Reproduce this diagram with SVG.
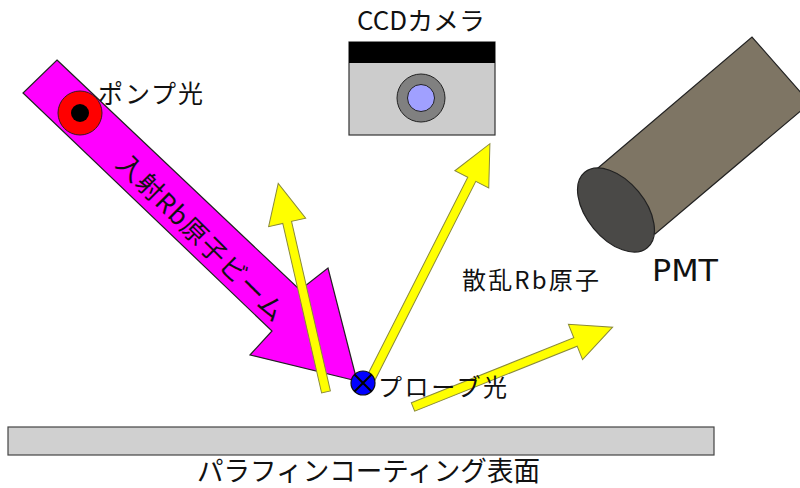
<svg xmlns="http://www.w3.org/2000/svg" width="800" height="488" viewBox="0 0 800 488">
  <style>
    .lbl { font-family: "Noto Sans CJK JP", "Noto Sans", sans-serif; fill: #111; }
    .lat { font-family: "DejaVu Sans", "Noto Sans", sans-serif; fill: #111; }
    .ray { fill: #ffff00; stroke: #8a8a3a; stroke-width: 1; stroke-linejoin: miter; }
    .edge { stroke: #222; stroke-width: 1.2; }
  </style>
  <rect width="800" height="488" fill="#ffffff"/>

  <!-- paraffin-coated surface -->
  <g id="surface">
    <rect x="8" y="427" width="706" height="28" fill="#d0d0d0" stroke="#444" stroke-width="1.2"/>
    <text class="lbl" x="368.5" y="481" font-size="27" text-anchor="middle" textLength="343" lengthAdjust="spacingAndGlyphs">パラフィンコーティング表面</text>
  </g>

  <!-- incident Rb atomic beam -->
  <g id="atom-beam">
    <polygon points="57,60 300,290 328,268 357,381 250,355 272,331 23,93" fill="#ff00ff" class="edge"/>
    <text class="lbl" x="194.3" y="244.2" font-size="26" text-anchor="middle" textLength="224" lengthAdjust="spacing" transform="rotate(44.8 194.3 244.2)">入射Rb原子ビーム</text>
  </g>

  <!-- pump light (out of plane) -->
  <g id="pump">
    <circle cx="80" cy="113" r="22" fill="#ff0000" stroke="#3a1a1a" stroke-width="1"/>
    <circle cx="80" cy="113" r="9" fill="#000"/>
    <text class="lbl" x="98" y="103" font-size="25" textLength="105">ポンプ光</text>
  </g>

  <!-- CCD camera -->
  <g id="ccd">
    <text class="lbl" x="421" y="30" font-size="25" text-anchor="middle" textLength="128" lengthAdjust="spacingAndGlyphs">CCDカメラ</text>
    <rect x="349" y="42" width="146" height="93" fill="#cccccc" stroke="#333" stroke-width="1.2"/>
    <rect x="349" y="42" width="146" height="21" fill="#000"/>
    <circle cx="421" cy="98" r="24" fill="#808080" stroke="#222" stroke-width="1"/>
    <circle cx="421" cy="98" r="13.5" fill="#a0a0ff" stroke="#222" stroke-width="1"/>
  </g>

  <!-- photomultiplier tube -->
  <g id="pmt">
    <polygon points="598,168 752,37 810,103 655,234 616,210" fill="#7e7564" class="edge"/>
    <ellipse cx="616" cy="210" rx="49" ry="29" transform="rotate(50.3 616 210)" fill="#4a4947" class="edge"/>
    <text class="lat" x="652" y="281" font-size="30" textLength="66" lengthAdjust="spacingAndGlyphs">PMT</text>
  </g>

  <!-- rays: specular, scattered and probe -->
  <g id="connectors">
    <path class="ray" d="M0,-4.5 H174 V-19 L214,0 L174,19 V4.5 H0 Z" transform="translate(326 392) rotate(-102.9)"/>
    <path class="ray" d="M0,-4.5 H225 V-19 L265,0 L225,19 V4.5 H0 Z" transform="translate(370 380) rotate(-63.1)"/>
    <path class="ray" d="M0,-4.5 H175 V-19 L215,0 L175,19 V4.5 H0 Z" transform="translate(413 407) rotate(-21.8)"/>
  </g>

  <!-- probe light (into plane) -->
  <g id="probe">
    <circle cx="363" cy="383" r="12" fill="#0000ff" stroke="#111" stroke-width="1.2"/>
    <path d="M354.5,374.5 L371.5,391.5 M371.5,374.5 L354.5,391.5" stroke="#000" stroke-width="2"/>
    <text class="lbl" x="378" y="396" font-size="24" textLength="129">プローブ光</text>
  </g>

  <g id="scattered-label">
    <text class="lbl" x="462" y="289" font-size="24" textLength="137">散乱Rb原子</text>
  </g>
</svg>
